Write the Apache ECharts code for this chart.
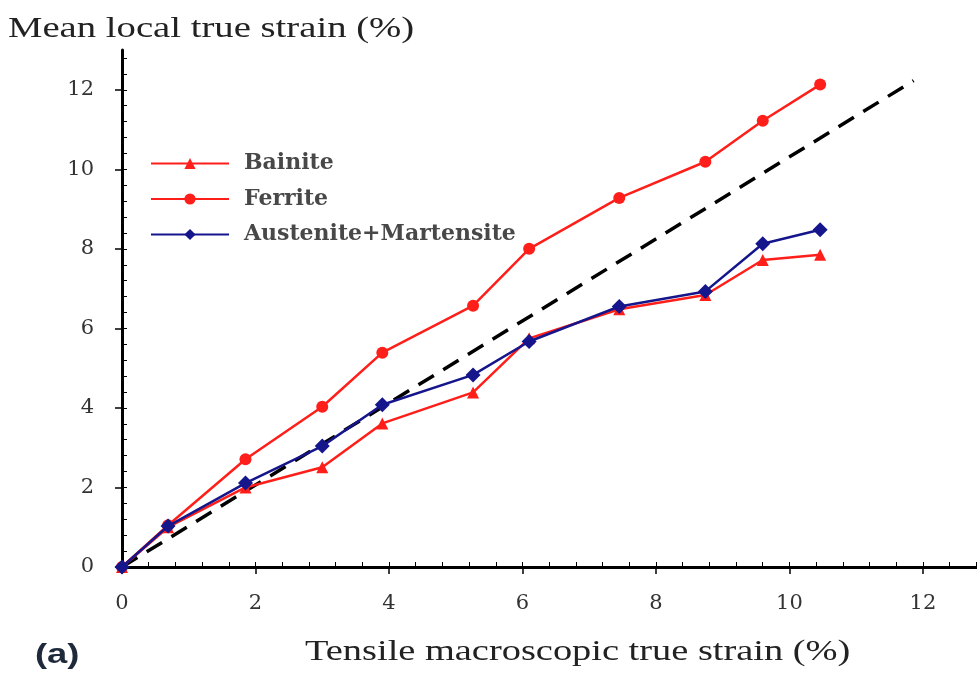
<!DOCTYPE html>
<html>
<head>
<meta charset="utf-8">
<script src="https://cdn.jsdelivr.net/npm/echarts@6/dist/echarts.min.js"></script>
<style>
  html, body { margin: 0; padding: 0; background: #fff; }
  #chart { width: 977px; height: 673px; }
</style>
</head>
<body>
<div id="chart"></div>
<script>
// Tensile macroscopic true strain (%) at each measurement step
const strainX = [0, 0.69, 1.85, 3.0, 3.9, 5.26, 6.1, 7.45, 8.74, 9.6, 10.46];

// Mean local true strain (%) per phase
const bainite   = [0, 1.0, 2.0, 2.51, 3.61, 4.39, 5.75, 6.48, 6.84, 7.72, 7.85];
const ferrite   = [0, 1.05, 2.71, 4.03, 5.39, 6.57, 8.0, 9.28, 10.19, 11.22, 12.13];
const austMart  = [0, 1.03, 2.11, 3.04, 4.08, 4.83, 5.67, 6.55, 6.93, 8.13, 8.48];

// Reference line (macroscopic strain) end points
const refLineX = [0, 11.86];
const refLineY = [0, 12.23];

// Axis tick labels
const xTickLabels = [0, 2, 4, 6, 8, 10, 12];
const yTickLabels = [0, 2, 4, 6, 8, 10, 12];

const yAxisTitle = 'Mean local true strain (%)';
const xAxisTitle = 'Tensile macroscopic true strain (%)';
const panelTag = '(a)';

const xMax = 12.81;
const yMax = 13;

// minor tick positions every 0.4
function minorSteps(max) {
  const out = [];
  for (let i = 1; i * 0.4 < max; i++) out.push(+(i * 0.4).toFixed(2));
  return out;
}

const pair = (xs, ys) => xs.map((x, i) => [x, ys[i]]);

const serif = 'DejaVu Serif';
const times = 'Liberation Serif';
const red = '#ff1f1a';
const navy = '#15158c';

const chart = echarts.init(document.getElementById('chart'), null, { renderer: 'canvas' });

chart.setOption({
  animation: false,
  backgroundColor: '#fff',
  graphic: [
    {
      type: 'text', x: 8, y: 29, scaleX: 1.29,
      style: { text: yAxisTitle, fontFamily: times, fontSize: 30, fill: '#222', verticalAlign: 'middle' }
    },
    {
      type: 'text', x: 305, y: 652, scaleX: 1.28,
      style: { text: xAxisTitle, fontFamily: times, fontSize: 30, fill: '#222', verticalAlign: 'middle' }
    },
    {
      type: 'text', x: 35, y: 655, scaleX: 1.3,
      style: { text: panelTag, fontFamily: 'Liberation Sans', fontSize: 28, fontWeight: 'bold', fill: '#1e2a3a', verticalAlign: 'middle' }
    }
  ],
  legend: {
    orient: 'vertical',
    left: 150, top: 152, padding: 0,
    itemWidth: 78, itemHeight: 14, itemGap: 12.5,
    data: ['Bainite', 'Ferrite', 'Austenite+Martensite'],
    textStyle: { fontFamily: serif, fontSize: 22, fontWeight: 'bold', color: '#484848', lineHeight: 23, padding: [0, 0, 0, 10] }
  },
  grid: { left: 122, top: 50, right: 0, bottom: 106, containLabel: false },
  xAxis: [
    {
      type: 'value', min: 0, max: xMax, position: 'bottom',
      axisLine: { show: true, lineStyle: { color: '#000', width: 3 } },
      axisTick: { show: true, inside: false, length: 7, customValues: xTickLabels, lineStyle: { color: '#000', width: 1.5 } },
      axisLabel: { customValues: xTickLabels, margin: 26, fontFamily: serif, fontSize: 21, color: '#333' },
      splitLine: { show: false }
    },
    {
      type: 'value', min: 0, max: xMax, position: 'bottom',
      axisLine: { show: false },
      axisTick: { show: true, inside: true, length: 5, customValues: minorSteps(xMax), lineStyle: { color: '#000', width: 1 } },
      axisLabel: { show: false },
      splitLine: { show: false }
    }
  ],
  yAxis: [
    {
      type: 'value', min: 0, max: yMax, position: 'left',
      axisLine: { show: true, lineStyle: { color: '#000', width: 3 } },
      axisTick: { show: true, inside: false, length: 7, customValues: yTickLabels, lineStyle: { color: '#000', width: 1.5 } },
      axisLabel: { customValues: yTickLabels, margin: 28, fontFamily: serif, fontSize: 21, color: '#333' },
      splitLine: { show: false }
    },
    {
      type: 'value', min: 0, max: yMax, position: 'left',
      axisLine: { show: false },
      axisTick: { show: true, inside: true, length: 5, customValues: minorSteps(yMax), lineStyle: { color: '#000', width: 1 } },
      axisLabel: { show: false },
      splitLine: { show: false }
    }
  ],
  series: [
    {
      name: 'reference',
      type: 'line',
      data: pair(refLineX, refLineY),
      symbol: 'none',
      lineStyle: { color: '#000', width: 3.5, type: [18, 11] },
      silent: true,
      z: 1
    },
    {
      name: 'Bainite',
      type: 'line',
      data: pair(strainX, bainite),
      symbol: 'triangle', symbolSize: 12,
      itemStyle: { color: red },
      lineStyle: { color: red, width: 2.5 },
      z: 2
    },
    {
      name: 'Ferrite',
      type: 'line',
      data: pair(strainX, ferrite),
      symbol: 'circle', symbolSize: 12,
      itemStyle: { color: red },
      lineStyle: { color: red, width: 2.5 },
      z: 3
    },
    {
      name: 'Austenite+Martensite',
      type: 'line',
      data: pair(strainX, austMart),
      symbol: 'diamond', symbolSize: 15,
      itemStyle: { color: navy },
      lineStyle: { color: navy, width: 2.5 },
      z: 4
    }
  ]
});
</script>
</body>
</html>
